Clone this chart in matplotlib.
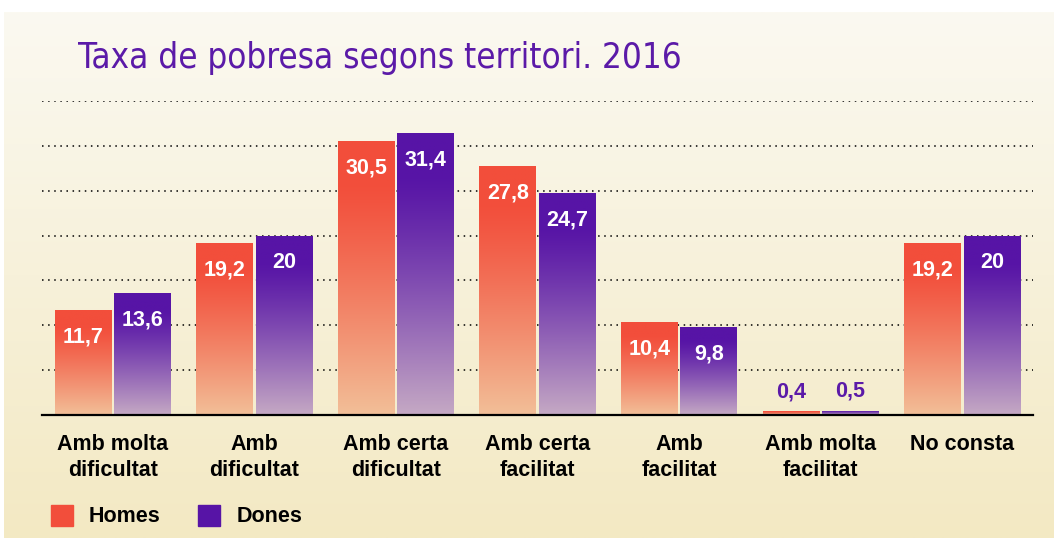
import numpy as np
import matplotlib
matplotlib.use("Agg")
from matplotlib import pyplot as plt
from matplotlib.colors import to_rgb
from matplotlib.patches import Rectangle

categories = ["Amb molta\ndificultat", "Amb\ndificultat", "Amb certa\ndificultat",
              "Amb certa\nfacilitat", "Amb\nfacilitat", "Amb molta\nfacilitat", "No consta"]
homes = [11.7, 19.2, 30.5, 27.8, 10.4, 0.4, 19.2]
dones = [13.6, 20.0, 31.4, 24.7, 9.8, 0.5, 20.0]
homes_lbl = ["11,7", "19,2", "30,5", "27,8", "10,4", "0,4", "19,2"]
dones_lbl = ["13,6", "20", "31,4", "24,7", "9,8", "0,5", "20"]

red_top, red_bot = "#f24e3b", "#f3bf98"
pur_top, pur_bot = "#5714a6", "#c5a9c4"
title_col = "#5b1aa8"

plt.rcParams['font.family'] = ['Liberation Sans', 'DejaVu Sans']

fig = plt.figure(figsize=(10.54, 5.38), dpi=100)
fig.patch.set_facecolor("white")

# background panel gradient
bg = fig.add_axes([4 / 1054, 0, 1, 1 - 12 / 538])
bg.set_axis_off()
c1, c2 = np.array(to_rgb("#fbf9f1")), np.array(to_rgb("#f3e9c3"))
g = np.linspace(0, 1, 256)[:, None]
bg.imshow((c1 + (c2 - c1) * g)[:, None, :].repeat(2, axis=1), aspect="auto",
          extent=(0, 1, 0, 1))

ax = fig.add_axes([42 / 1054, 1 - 415 / 538, (1033 - 42) / 1054, (415 - 101) / 538])
ax.set_facecolor("none")
x = np.arange(len(categories))
w = 0.4


def grad_bars(bars, top, bot):
    t, b = np.array(to_rgb(top)), np.array(to_rgb(bot))
    f = np.linspace(0, 1, 200)
    m = np.clip((f - 0.15) / 0.85, 0, 1) ** 1.2
    img = (t + (b - t) * m[:, None])[:, None, :].repeat(2, axis=1)
    for bar in bars:
        bar.set_facecolor("none")
        x0, y0 = bar.get_x(), bar.get_y()
        im = ax.imshow(img, aspect="auto", zorder=3,
                       extent=(x0, x0 + bar.get_width(), y0, y0 + bar.get_height()))
        im.set_clip_path(bar)


hb = ax.bar(x - 0.21, homes, w, zorder=3, linewidth=0)
db = ax.bar(x + 0.21, dones, w, zorder=3, linewidth=0)
grad_bars(hb, red_top, red_bot)
grad_bars(db, pur_top, pur_bot)

for xs, vals, lbls in [(x - 0.21, homes, homes_lbl), (x + 0.21, dones, dones_lbl)]:
    for xi, v, s in zip(xs, vals, lbls):
        if v > 3:
            ax.text(xi, v - 3, s, ha="center", va="center", color="white",
                    fontsize=15.5, fontweight="bold", zorder=5)
        else:
            ax.text(xi, v + 2.2, s, ha="center", va="center", color=title_col,
                    fontsize=15.5, fontweight="bold", zorder=5)

ax.set_xlim(-0.5, 6.5)
ax.set_ylim(0, 35)
ax.set_yticks(np.arange(5, 36, 5))
ax.yaxis.grid(True, linestyle=(0, (1, 3)), color="black", linewidth=1.1, zorder=1)
ax.tick_params(axis="y", length=0, labelleft=False)
ax.tick_params(axis="x", length=0, pad=14)
ax.set_xticks(x)
ax.set_xticklabels(categories, fontsize=15.5, fontweight="bold", linespacing=1.3)
for s in ["top", "right", "left"]:
    ax.spines[s].set_visible(False)
ax.spines["bottom"].set_linewidth(1.6)
ax.spines["bottom"].set_zorder(6)

fig.text(78 / 1054, 1 - 58 / 538, "Taxa de pobresa segons territori. 2016",
         color=title_col, fontsize=25, va="center", ha="left",
         family=["DejaVu Sans"], fontstretch="condensed")

# legend
for x0, col, name, tx in [(51, red_top, "Homes", 89), (198, pur_top, "Dones", 237)]:
    fig.patches.append(Rectangle((x0 / 1054, 1 - 526 / 538), 22 / 1054, 21 / 538,
                                 transform=fig.transFigure, color=col))
    fig.text(tx / 1054, 1 - 516 / 538, name, fontsize=15.5, fontweight="bold",
             va="center", ha="left")

fig.savefig("out.png", dpi=100)
